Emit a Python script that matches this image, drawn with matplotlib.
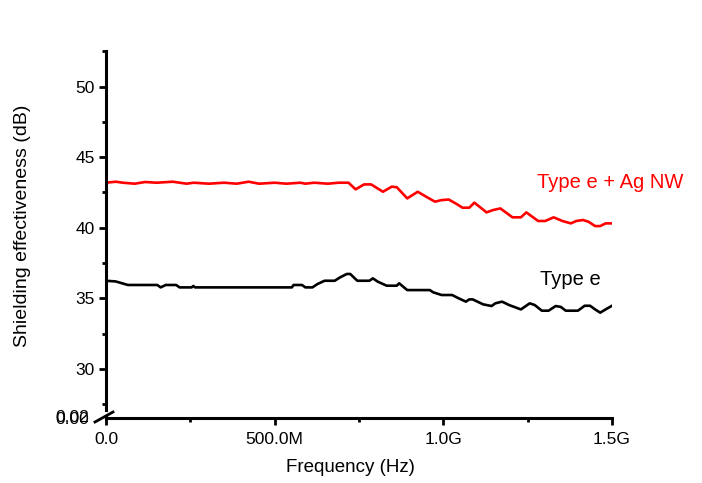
import numpy as np
import matplotlib.pyplot as plt
from matplotlib.lines import Line2D

plt.rcParams['font.family'] = ['Liberation Sans', 'DejaVu Sans']

# frequency in GHz, shielding effectiveness in dB
f_ag = [0.0, 0.004, 0.029, 0.05, 0.085, 0.116, 0.15, 0.198, 0.239, 0.26, 0.305, 0.35,
        0.387, 0.423, 0.454, 0.5, 0.535, 0.576, 0.591, 0.617, 0.658, 0.689, 0.719,
        0.740, 0.765, 0.786, 0.821, 0.847, 0.862, 0.893, 0.924, 0.949, 0.975, 0.995,
        1.016, 1.036, 1.057, 1.077, 1.092, 1.128, 1.148, 1.169, 1.205, 1.230, 1.246,
        1.281, 1.302, 1.327, 1.353, 1.378, 1.394, 1.414, 1.430, 1.450, 1.465, 1.481, 1.5]
se_ag = [43.26, 43.2, 43.26, 43.19, 43.12, 43.24, 43.19, 43.26, 43.12, 43.19, 43.12, 43.19,
         43.12, 43.26, 43.12, 43.19, 43.12, 43.19, 43.12, 43.19, 43.12, 43.19, 43.19,
         42.72, 43.07, 43.07, 42.55, 42.91, 42.87, 42.08, 42.55, 42.2, 41.85, 41.96,
         42.0, 41.73, 41.42, 41.42, 41.78, 41.09, 41.26, 41.37, 40.74, 40.74, 41.09,
         40.48, 40.48, 40.74, 40.48, 40.31, 40.48, 40.55, 40.43, 40.12, 40.12, 40.31, 40.31]

f_e = [0.0, 0.029, 0.065, 0.152, 0.162, 0.177, 0.208, 0.218, 0.254, 0.259, 0.264,
       0.551, 0.556, 0.581, 0.591, 0.612, 0.627, 0.648, 0.678, 0.694, 0.714, 0.724,
       0.745, 0.781, 0.791, 0.806, 0.832, 0.862, 0.869, 0.893, 0.960, 0.970, 0.995,
       1.026, 1.046, 1.067, 1.077, 1.087, 1.118, 1.143, 1.154, 1.174, 1.195, 1.230,
       1.256, 1.271, 1.292, 1.312, 1.333, 1.348, 1.363, 1.399, 1.419, 1.435, 1.450,
       1.465, 1.481, 1.5]
se_e = [36.25, 36.2, 35.95, 35.95, 35.78, 35.95, 35.95, 35.78, 35.78, 35.88, 35.78,
        35.78, 35.95, 35.95, 35.78, 35.78, 36.02, 36.25, 36.25, 36.49, 36.73, 36.73,
        36.25, 36.25, 36.42, 36.18, 35.9, 35.9, 36.07, 35.59, 35.59, 35.43, 35.24,
        35.24, 35.0, 34.77, 34.93, 34.93, 34.58, 34.46, 34.65, 34.77, 34.53, 34.22,
        34.65, 34.53, 34.13, 34.13, 34.46, 34.4, 34.13, 34.13, 34.48, 34.48, 34.22,
        33.99, 34.22, 34.48]

xticks = [0, 0.5e9, 1.0e9, 1.5e9]
xticklabels = ['0.0', '500.0M', '1.0G', '1.5G']
yticks = [30, 35, 40, 45, 50]

W, H = 702, 483
fig = plt.figure(figsize=(W / 100, H / 100), dpi=100)
ax = fig.add_axes([106 / W, 1 - 410 / H, 506 / W, (410 - 51.2) / H])
ax2 = fig.add_axes([106 / W, 1 - 418 / H, 506 / W, 1.5 / H])

fhz_ag = np.array(f_ag) * 1e9
fhz_e = np.array(f_e) * 1e9
ax.plot(fhz_ag, se_ag, color='red', lw=1.9)
ax.plot(fhz_e, se_e, color='black', lw=1.9)

ax.set_xlim(0, 1.5e9)
ax.set_ylim(27.1, 52.5)
ax.set_yticks(yticks)
ax.set_yticks([27.5, 32.5, 37.5, 42.5, 47.5, 52.5], minor=True)
ax.set_xticks([])
for s in ['top', 'right', 'bottom']:
    ax.spines[s].set_visible(False)
ax.spines['left'].set_linewidth(2.2)
ax.tick_params(axis='y', which='major', length=5, width=2, labelsize=12.5, pad=3)
ax.tick_params(axis='y', which='minor', length=3, width=2)

ax2.set_xlim(0, 1.5e9)
ax2.set_ylim(0, 0.02)
ax2.set_yticks([0.0, 0.02])
ax2.set_yticklabels(['0.00', '0.02'])
ax2.set_xticks(xticks)
ax2.set_xticklabels(xticklabels)
ax2.set_xticks([0.25e9, 0.75e9, 1.25e9], minor=True)
for s in ['top', 'right']:
    ax2.spines[s].set_visible(False)
ax2.spines['left'].set_linewidth(2.2)
ax2.spines['bottom'].set_linewidth(2.2)
ax2.tick_params(axis='x', which='major', length=5, width=2, labelsize=12.5, pad=5)
ax2.tick_params(axis='x', which='minor', length=3, width=2)
ax2.tick_params(axis='y', which='major', length=0, labelsize=12.5, pad=12)
ax2.patch.set_visible(False)

# axis break mark
fig.add_artist(Line2D([95 / W, 113 / W], [1 - 422 / H, 1 - 412 / H], color='black', lw=2))

ax.text(0.852, 43.2, 'Type e + Ag NW', transform=ax.get_yaxis_transform(),
        color='red', fontsize=14.5, va='center')
ax.text(0.858, 36.35, 'Type e', transform=ax.get_yaxis_transform(),
        color='black', fontsize=14.5, va='center')

fig.text(23 / W, 1 - 226 / H, 'Shielding effectiveness (dB)', rotation=90,
         ha='center', va='center', fontsize=14)
fig.text(350 / W, 1 - 467 / H, 'Frequency (Hz)', ha='center', va='center', fontsize=13.5)

fig.savefig('out.png', dpi=100)
